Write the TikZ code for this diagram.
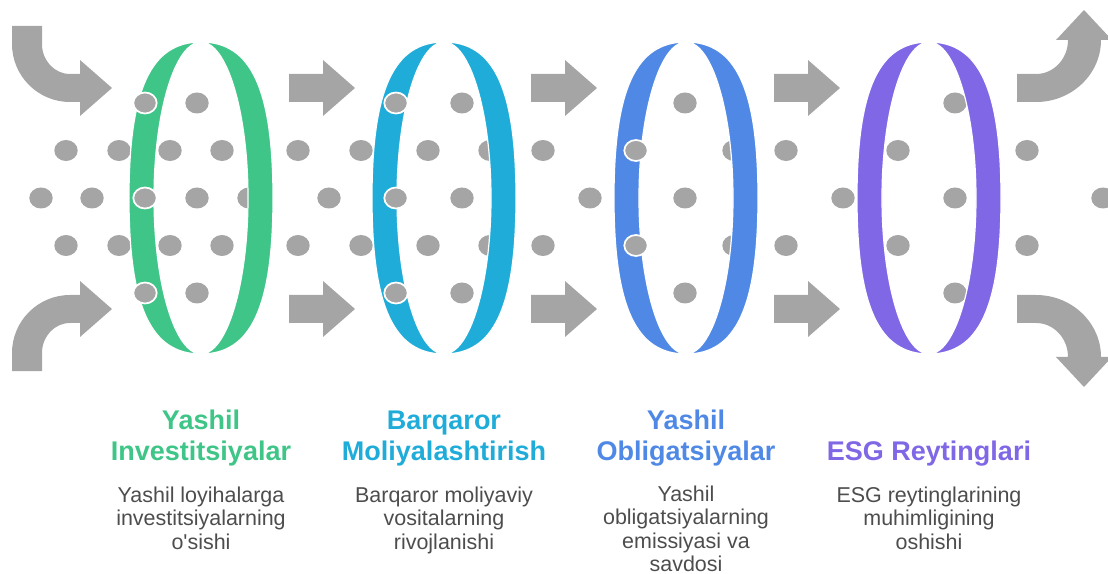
\documentclass[tikz,border=0pt]{standalone}
\usepackage{fontspec}
\setmainfont{Liberation Sans}
\definecolor{dotgray}{HTML}{A5A5A5}
\definecolor{bodygray}{HTML}{4D4D4D}
\definecolor{cgreen}{HTML}{3EC587}
\definecolor{ccyan}{HTML}{20ACD9}
\definecolor{cblue}{HTML}{4F89E5}
\definecolor{cpurple}{HTML}{7F67E6}
\begin{document}
\begin{tikzpicture}[x=0.75pt,y=-0.75pt,
  backdot/.style={fill=dotgray},
  frontdot/.style={fill=dotgray, draw=white, line width=1.3pt},
  blockarrow/.style={fill=dotgray},
  title/.style={font=\fontsize{20.25pt}{23.25pt}\selectfont\bfseries, align=center, anchor=north, inner sep=0pt},
  body/.style={font=\fontsize{16.1pt}{17.6pt}\selectfont, text=bodygray, align=center, anchor=north, inner sep=0pt}]
\useasboundingbox (0,0) rectangle (1108,574);

% dots behind the rings
\foreach \px/\py in {197/103,462/103,685/103,955/103,
  66/150.5,119/150.5,170/150.5,222/150.5,298/150.5,361/150.5,428/150.5,490/150.5,543/150.5,734/150.5,786/150.5,898/150.5,1027/150.5,
  41/198,92/198,197/198,249/198,329/198,462/198,590/198,685/198,843/198,955/198,1103/198,
  66/245.5,119/245.5,170/245.5,222/245.5,298/245.5,361/245.5,428/245.5,490/245.5,543/245.5,734/245.5,786/245.5,898/245.5,1027/245.5,
  197/293,462/293,685/293,955/293}
  \fill[backdot] (\px,\py) ellipse [x radius=11.7, y radius=10.5];

% straight block arrows
\foreach \tx in {355,597,840}{
  \foreach \ty in {88,309}{
    \fill[blockarrow] (\tx-66,\ty-14) -- (\tx-32,\ty-14) -- (\tx-32,\ty-28) -- (\tx,\ty)
      -- (\tx-32,\ty+28) -- (\tx-32,\ty+14) -- (\tx-66,\ty+14) -- cycle;
  }
}

% curved arrows, left
\fill[blockarrow] (12,26) -- (12,44) .. controls (12,76) and (38,102) .. (70,102) -- (80,102) -- (80,116)
  -- (112,88) -- (80,60) -- (80,74) -- (70,74) .. controls (54.5,74) and (42,60.6) .. (42,44) -- (42,26) -- cycle;
\fill[blockarrow] (12,371) -- (12,353) .. controls (12,321) and (38,295) .. (70,295) -- (80,295) -- (80,281)
  -- (112,309) -- (80,337) -- (80,323) -- (70,323) .. controls (54.5,323) and (42,336.4) .. (42,353) -- (42,371) -- cycle;
% curved arrows, right
\fill[blockarrow] (1017,74) -- (1036,74) .. controls (1053.7,74) and (1068,58.8) .. (1068,40) -- (1056,40)
  -- (1084,10) -- (1112,40) -- (1101,40) .. controls (1101,74.2) and (1071.9,102) .. (1036,102) -- (1017,102) -- cycle;
\fill[blockarrow] (1017,323) -- (1036,323) .. controls (1053.7,323) and (1068,338.2) .. (1068,357) -- (1056,357)
  -- (1084,387) -- (1112,357) -- (1101,357) .. controls (1101,322.8) and (1071.9,295) .. (1036,295) -- (1017,295) -- cycle;

% rings
\foreach \cx/\col in {201/cgreen,444/ccyan,686/cblue,929/cpurple}{
  \fill[\col, even odd rule]
    (\cx,42) .. controls (\cx-50,42) and (\cx-72,89) .. (\cx-72,198)
    .. controls (\cx-72,307) and (\cx-50,354) .. (\cx,354)
    .. controls (\cx+50,354) and (\cx+72,307) .. (\cx+72,198)
    .. controls (\cx+72,89) and (\cx+50,42) .. (\cx,42) -- cycle
    (\cx,198) ellipse [x radius=47, y radius=156];
  \draw[white, line width=0.9pt]
    (\cx,42) .. controls (\cx-50,42) and (\cx-72,89) .. (\cx-72,198)
    .. controls (\cx-72,307) and (\cx-50,354) .. (\cx,354)
    .. controls (\cx+50,354) and (\cx+72,307) .. (\cx+72,198)
    .. controls (\cx+72,89) and (\cx+50,42) .. (\cx,42) -- cycle
    (\cx,198) ellipse [x radius=47, y radius=156];
  \draw[white, line width=2pt] (\cx-1.5,36) -- (\cx-1.5,47) (\cx-1.5,349) -- (\cx-1.5,360);
}

% dots in front of the rings
\foreach \px/\py in {145/103,145/198,145/293,396/103,396/198,396/293,636/150.5,636/245.5}
  \filldraw[frontdot] (\px,\py) ellipse [x radius=11.7, y radius=10.5];

% titles
\node[title, text=cgreen] (t1) at (201,407.3) {\strut Yashil\\Investitsiyalar};
\node[title, text=ccyan] (t2) at (444,407.3) {\strut Barqaror\\Moliyalashtirish};
\node[title, text=cblue] (t3) at (686,407.3) {\strut Yashil\\Obligatsiyalar};
\node[title, text=cpurple] (t4) at (929,438.3) {\strut ESG Reytinglari};

% descriptions
\node[body] (b1) at (201,485.6) {\strut Yashil loyihalarga\\investitsiyalarning\\o\textquotesingle sishi};
\node[body] (b2) at (444,485.6) {\strut Barqaror moliyaviy\\vositalarning\\rivojlanishi};
\node[body] (b3) at (686,484.6) {\strut Yashil\\obligatsiyalarning\\emissiyasi va\\savdosi};
\node[body] (b4) at (929,485.6) {\strut ESG reytinglarining\\muhimligining\\oshishi};
\end{tikzpicture}
\end{document}
